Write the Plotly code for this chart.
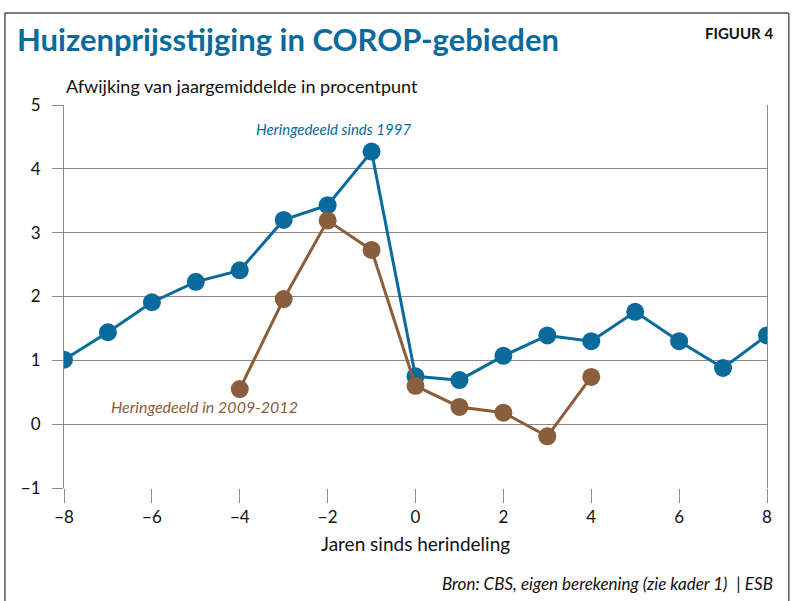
import plotly.graph_objects as go

# Jaren sinds herindeling
years_1997 = [-8, -7, -6, -5, -4, -3, -2, -1, 0, 1, 2, 3, 4, 5, 6, 7, 8]
dev_1997 = [1.01, 1.44, 1.91, 2.23, 2.41, 3.20, 3.43, 4.27, 0.75, 0.69,
            1.07, 1.39, 1.30, 1.76, 1.30, 0.88, 1.39]

years_2009 = [-4, -3, -2, -1, 0, 1, 2, 3, 4]
dev_2009 = [0.55, 1.96, 3.19, 2.73, 0.60, 0.27, 0.18, -0.19, 0.74]

x_ticks = [-8, -6, -4, -2, 0, 2, 4, 6, 8]
x_tick_labels = ["\u22128", "\u22126", "\u22124", "\u22122", "0", "2", "4", "6", "8"]
y_ticks = [-1, 0, 1, 2, 3, 4, 5]
y_tick_labels = ["\u22121", "0", "1", "2", "3", "4", "5"]

BLUE = "#0a6a9c"
BROWN = "#8a5d3b"
GRID = "#8a8a8a"
FONT = "Lato"

fig = go.Figure()

fig.add_trace(go.Scatter(
    x=years_1997, y=dev_1997, mode="lines+markers",
    line=dict(color=BLUE, width=3),
    marker=dict(color=BLUE, size=18),
    name="Heringedeeld sinds 1997",
))
fig.add_trace(go.Scatter(
    x=years_2009, y=dev_2009, mode="lines+markers",
    line=dict(color=BROWN, width=3),
    marker=dict(color=BROWN, size=18),
    name="Heringedeeld in 2009-2012",
))

# series labels
fig.add_annotation(x=-1.86, y=4.62, text="<i>Heringedeeld sinds 1997</i>",
                   showarrow=False, font=dict(family=FONT, size=15, color=BLUE))
fig.add_annotation(x=-4.8, y=0.27, text="<i>Heringedeeld in 2009-2012</i>",
                   showarrow=False, font=dict(family=FONT, size=16, color=BROWN))

# title, figure number, axis titles, source
fig.add_annotation(xref="paper", yref="paper", x=-0.07, y=1.173, xanchor="left", yanchor="middle",
                   text="<b>Huizenprijsstijging in COROP-gebieden</b>", showarrow=False,
                   font=dict(family=FONT, size=31, color=BLUE))
fig.add_annotation(xref="paper", yref="paper", x=1.012, y=1.188, xanchor="right", yanchor="middle",
                   text="<b>FIGUUR 4</b>", showarrow=False,
                   font=dict(family=FONT, size=15, color="#111111", weight=900))
fig.add_annotation(xref="paper", yref="paper", x=0.0, y=1.05, xanchor="left", yanchor="middle",
                   text="Afwijking van jaargemiddelde in procentpunt", showarrow=False,
                   font=dict(family=FONT, size=18, color="#111111"))
fig.add_annotation(xref="paper", yref="paper", x=0.5, y=-0.145, xanchor="center", yanchor="middle",
                   text="Jaren sinds herindeling", showarrow=False,
                   font=dict(family=FONT, size=19, color="#111111"))
fig.add_annotation(xref="paper", yref="paper", x=1.012, y=-0.25, xanchor="right", yanchor="middle",
                   text="<i>Bron: CBS, eigen berekening (zie kader 1)</i>  | <i>ESB</i>", showarrow=False,
                   font=dict(family=FONT, size=17, color="#111111"))

# frame around the whole figure
frame = dict(color="#555555", width=1.5)
fig.add_shape(type="line", xref="paper", yref="paper", x0=-0.084, x1=1.031, y0=1.24, y1=1.24, line=frame)
fig.add_shape(type="line", xref="paper", yref="paper", x0=-0.084, x1=-0.084, y0=-0.35, y1=1.24, line=frame)
fig.add_shape(type="line", xref="paper", yref="paper", x0=1.031, x1=1.031, y0=-0.35, y1=1.24, line=frame)

fig.update_xaxes(
    range=[-8, 8], tickvals=x_ticks, ticktext=x_tick_labels,
    showgrid=False, zeroline=False, showline=False,
    ticks="outside", ticklen=14, tickcolor=GRID, tickwidth=1,
    tickfont=dict(family=FONT, size=17, color="#111111"),
)
fig.update_yaxes(
    range=[-1, 5], tickvals=y_ticks, ticktext=y_tick_labels,
    showgrid=True, gridcolor=GRID, gridwidth=1, zeroline=False,
    showline=True, linecolor=GRID, linewidth=1, mirror=True,
    ticks="outside", ticklen=11, tickcolor=GRID, tickwidth=1,
    ticklabelstandoff=8,
    tickfont=dict(family=FONT, size=17, color="#111111"),
)

fig.update_layout(
    width=796, height=601,
    margin=dict(l=64, r=29, t=105, b=113),
    plot_bgcolor="white", paper_bgcolor="white",
    showlegend=False,
    font=dict(family=FONT),
)

fig.write_html("out.html", config={"displayModeBar": False},
               post_script="document.body.style.margin='0';")
